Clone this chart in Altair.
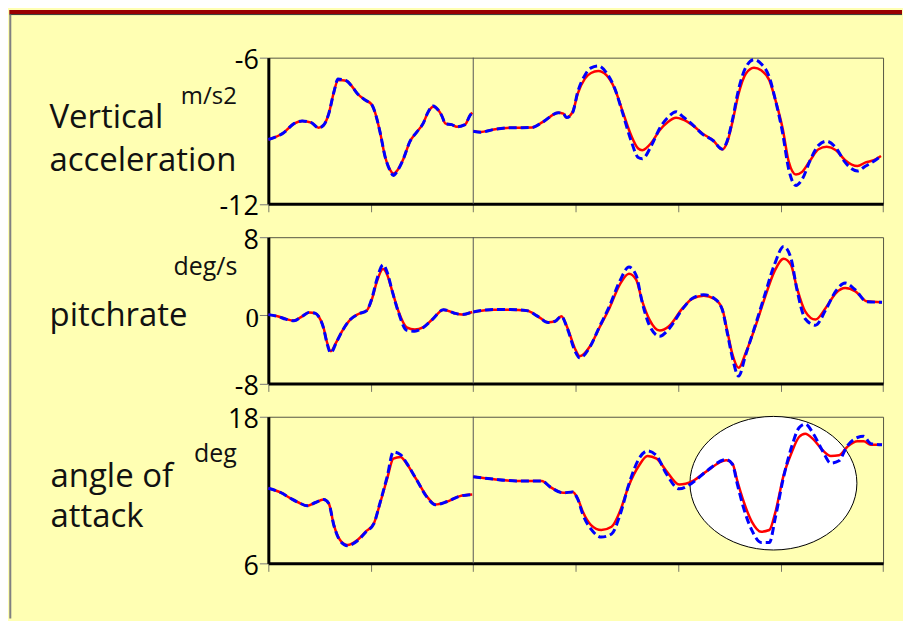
import altair as alt
import pandas as pd

# ---------------- data (time axis in units 0..6) ----------------
# Panel 1: vertical acceleration (m/s2)
acc_t_left = [0.00, 0.15, 0.25, 0.33, 0.42, 0.49, 0.54, 0.59, 0.64, 0.68,
              0.72, 0.77, 0.82, 0.87, 0.95, 1.01, 1.04, 1.09, 1.14, 1.19,
              1.22, 1.26, 1.32, 1.38, 1.45, 1.51, 1.56, 1.61, 1.66, 1.69,
              1.73, 1.79, 1.84, 1.92, 1.97, 1.99]
acc_red_left = [-9.36, -9.08, -8.71, -8.60, -8.67, -8.88, -8.77, -8.30, -7.41, -6.93,
                -6.93, -6.97, -7.20, -7.48, -7.75, -7.93, -8.23, -9.05, -10.07, -10.62,
                -10.76, -10.62, -10.14, -9.46, -9.05, -8.71, -8.23, -8.02, -8.16, -8.36,
                -8.71, -8.75, -8.84, -8.75, -8.36, -8.26]
acc_blue_left = [-9.36, -9.08, -8.71, -8.60, -8.67, -8.88, -8.77, -8.30, -7.41, -6.88,
                 -6.90, -6.97, -7.20, -7.48, -7.75, -7.93, -8.23, -9.05, -10.07, -10.65,
                 -10.84, -10.65, -10.14, -9.46, -9.05, -8.71, -8.23, -7.98, -8.16, -8.36,
                 -8.71, -8.75, -8.84, -8.75, -8.36, -8.26]
acc_t_right = [2.00, 2.07, 2.20, 2.36, 2.57, 2.68, 2.83, 2.88, 2.91, 2.97,
               3.02, 3.09, 3.15, 3.22, 3.30, 3.38, 3.46, 3.54, 3.61, 3.65,
               3.74, 3.82, 3.90, 3.98, 4.04, 4.14, 4.24, 4.34, 4.43, 4.48,
               4.53, 4.59, 4.66, 4.74, 4.81, 4.89, 4.95, 5.02, 5.08, 5.15,
               5.21, 5.29, 5.37, 5.45, 5.54, 5.63, 5.75, 5.83, 5.91, 5.98]
acc_red_right = [-9.02, -9.05, -8.95, -8.88, -8.87, -8.64, -8.26, -8.30, -8.46, -8.23,
                 -7.48, -6.86, -6.63, -6.55, -6.72, -7.27, -8.23, -9.18, -9.73, -9.80,
                 -9.49, -8.98, -8.64, -8.47, -8.53, -8.77, -9.12, -9.39, -9.77, -9.46,
                 -8.64, -7.48, -6.66, -6.41, -6.52, -6.93, -7.75, -8.91, -10.28, -10.80,
                 -10.69, -10.21, -9.76, -9.66, -9.80, -10.21, -10.45, -10.30, -10.21, -10.04]
acc_blue_right = [-9.02, -9.06, -8.95, -8.88, -8.87, -8.64, -8.26, -8.30, -8.46, -8.25,
                  -7.40, -6.72, -6.42, -6.34, -6.62, -7.25, -8.30, -9.40, -10.10, -10.15,
                  -9.60, -8.90, -8.45, -8.22, -8.40, -8.75, -9.15, -9.40, -9.75, -9.40,
                  -8.55, -7.30, -6.40, -6.08, -6.25, -6.80, -7.75, -9.10, -10.60, -11.25,
                  -11.00, -10.20, -9.60, -9.43, -9.70, -10.30, -10.65, -10.45, -10.25, -10.04]

# Panel 2: pitch rate (deg/s)
pr_t_left = [0.00, 0.09, 0.17, 0.25, 0.33, 0.40, 0.46, 0.49, 0.54, 0.57,
             0.61, 0.66, 0.72, 0.80, 0.88, 0.96, 1.01, 1.06, 1.12, 1.16,
             1.21, 1.27, 1.35, 1.43, 1.51, 1.60, 1.71, 1.81, 1.89, 1.99]
pr_red_left = [0.07, -0.12, -0.43, -0.62, -0.12, 0.28, 0.20, -0.12, -1.49, -3.05,
               -4.22, -3.24, -1.87, -0.50, 0.13, 0.48, 1.60, 3.47, 4.73, 4.16,
               2.45, 0.41, -1.41, -1.68, -1.41, -0.50, 0.58, 0.24, 0.07, 0.34]
pr_blue_left = [0.07, -0.12, -0.45, -0.65, -0.12, 0.30, 0.20, -0.12, -1.55, -3.15,
                -4.40, -3.30, -1.87, -0.50, 0.13, 0.48, 1.70, 3.70, 5.18, 4.40,
                2.45, 0.30, -1.75, -1.87, -1.45, -0.50, 0.58, 0.24, 0.07, 0.34]
pr_t_right = [2.00, 2.20, 2.36, 2.52, 2.63, 2.73, 2.80, 2.86, 2.92, 2.99,
              3.04, 3.14, 3.23, 3.33, 3.43, 3.52, 3.59, 3.65, 3.72, 3.82,
              3.91, 4.04, 4.14, 4.25, 4.35, 4.43, 4.48, 4.53, 4.59, 4.66,
              4.76, 4.84, 4.94, 5.03, 5.10, 5.16, 5.24, 5.34, 5.44, 5.54,
              5.63, 5.73, 5.84, 5.99]
pr_red_right = [0.34, 0.58, 0.58, 0.48, -0.12, -0.82, -0.70, -0.12, -1.49, -3.83,
                -4.80, -3.63, -1.49, 0.75, 3.14, 4.26, 3.65, 1.43, -0.50, -1.79,
                -1.29, 0.68, 1.71, 2.01, 1.71, 0.68, -1.87, -4.60, -6.17, -4.41,
                -1.09, 1.60, 4.50, 5.79, 5.18, 2.79, 0.41, -0.50, 0.75, 2.28,
                2.79, 2.45, 1.43, 1.33]
pr_blue_right = [0.34, 0.60, 0.60, 0.48, -0.12, -0.85, -0.70, -0.12, -1.60, -4.10,
                 -5.00, -3.70, -1.40, 0.95, 3.50, 4.94, 4.10, 1.30, -1.20, -2.46,
                 -1.60, 0.60, 1.75, 2.10, 1.75, 0.60, -2.10, -5.00, -7.14, -4.60,
                 -0.90, 1.90, 5.20, 7.05, 5.90, 2.60, -0.40, -1.17, 0.55, 2.50,
                 3.30, 2.60, 1.40, 1.33]

# Panel 3: angle of attack (deg)
aoa_t_left = [0.00, 0.12, 0.22, 0.30, 0.38, 0.46, 0.54, 0.59, 0.64, 0.70,
              0.77, 0.87, 0.95, 1.03, 1.09, 1.16, 1.22, 1.29, 1.35, 1.45,
              1.55, 1.63, 1.74, 1.87, 1.99]
aoa_red_left = [12.15, 11.80, 11.31, 10.96, 10.71, 10.98, 11.22, 10.90, 9.13, 7.91,
                7.50, 7.91, 8.59, 9.27, 10.90, 12.94, 14.57, 14.71, 14.16, 12.81,
                11.45, 10.82, 11.04, 11.50, 11.63]
aoa_blue_left = [12.15, 11.80, 11.31, 10.96, 10.71, 10.98, 11.22, 10.90, 9.10, 7.85,
                 7.45, 7.85, 8.55, 9.25, 10.95, 13.10, 15.12, 14.90, 14.20, 12.80,
                 11.40, 10.80, 11.04, 11.50, 11.63]
aoa_t_right = [2.00, 2.20, 2.42, 2.67, 2.75, 2.88, 2.97, 3.02, 3.07, 3.15,
               3.25, 3.35, 3.43, 3.52, 3.62, 3.70, 3.79, 3.88, 4.01, 4.14,
               4.27, 4.47, 4.53, 4.58, 4.64, 4.72, 4.81, 4.89, 4.95, 5.03,
               5.11, 5.18, 5.24, 5.32, 5.41, 5.49, 5.57, 5.65, 5.75, 5.81,
               5.88, 5.99]
aoa_red_right = [13.08, 12.89, 12.75, 12.75, 12.26, 11.77, 11.85, 11.31, 10.22, 9.13,
                 8.73, 9.00, 10.22, 12.40, 14.03, 14.79, 14.57, 13.62, 12.45, 12.73,
                 13.49, 14.44, 14.16, 12.67, 11.04, 9.40, 8.59, 8.73, 10.22, 13.22,
                 15.12, 16.34, 16.61, 16.15, 15.26, 14.79, 14.85, 15.53, 15.99, 15.99,
                 15.71, 15.71]
aoa_blue_right = [13.08, 12.89, 12.75, 12.75, 12.26, 11.77, 11.85, 11.25, 10.00, 8.80,
                  8.15, 8.40, 9.90, 12.50, 14.60, 15.20, 14.80, 13.40, 12.10, 12.60,
                  13.50, 14.50, 14.10, 12.40, 10.50, 8.70, 7.70, 7.70, 9.80, 13.10,
                  15.60, 17.10, 17.40, 16.60, 15.20, 14.20, 14.40, 15.60, 16.30, 16.40,
                  15.80, 15.71]

# highlighted region (ellipse) in panel 3, in data units
ellipse_t = [4.93]
ellipse_v = [12.56]

# axis ticks
time_ticks = [0, 1, 2, 3, 4, 5, 6]
segment_split = [2]

# ---------------- helpers ----------------
BG = "#FFFFB3"
PW = 616.3
FONT = "Open Sans"


def long_df(tl, rl, bl, tr, rr, br):
    rows = []
    for seg, ts, rs, bs in (("a", tl, rl, bl), ("b", tr, rr, br)):
        for t, r, b in zip(ts, rs, bs):
            rows.append({"t": t, "v": r, "series": "model", "seg": seg})
            rows.append({"t": t, "v": b, "series": "measured", "seg": seg})
    return pd.DataFrame(rows)


def x_enc():
    return alt.X("t:Q", scale=alt.Scale(domain=[0, 6], nice=False, zero=False),
                 axis=alt.Axis(values=time_ticks, labels=False, title=None, grid=False,
                               domainColor="black", domainWidth=3,
                               tickColor="#777766", tickSize=8, tickWidth=1))


def y_enc(domain, values, rng=None, label_font=FONT):
    sc = dict(domain=domain, nice=False, zero=False)
    if rng is not None:
        sc["range"] = rng
    return alt.Y("v:Q", scale=alt.Scale(**sc),
                 axis=alt.Axis(values=values, title=None, grid=False,
                               domainColor="black", domainWidth=3,
                               tickColor="#777777", tickSize=9, tickWidth=1,
                               labelFontSize=27, labelFont=label_font,
                               labelColor="black", labelPadding=1, labelOffset=3,
                               labelExpr="'' + datum.value"))


def text(txt, x, y, size=33):
    return alt.Chart(pd.DataFrame({"k": [0]})).mark_text(
        text=txt, align="left", baseline="alphabetic", font=FONT,
        fontSize=size, color="#111111").encode(x=alt.value(x), y=alt.value(y))


def panel(df, y, extra_front=(), extra_back=(), h=147):
    base = alt.Chart(df).encode(x=x_enc(), y=y, detail="seg:N")
    red = base.transform_filter("datum.series == 'model'").mark_line(
        color="#FF0000", strokeWidth=2.5, interpolate="monotone")
    blue = base.transform_filter("datum.series == 'measured'").mark_line(
        color="#0000FF", strokeWidth=3, strokeDash=[8, 4], interpolate="monotone")
    split = alt.Chart(pd.DataFrame({"t": segment_split})).mark_rule(
        color="#555555", strokeWidth=1).encode(x=x_enc())
    return alt.layer(*extra_back, split, red, blue, *extra_front).properties(width=PW, height=h)


# ---------------- panel 1 ----------------
df1 = long_df(acc_t_left, acc_red_left, acc_blue_left, acc_t_right, acc_red_right, acc_blue_right)
band = alt.Chart(pd.DataFrame({"k": [0]})).mark_rect(color="#990000").encode(
    x=alt.value(-259.7), x2=alt.value(635.3), y=alt.value(-47.7), y2=alt.value(-43.7))
band_line = alt.Chart(pd.DataFrame({"k": [0]})).mark_rule(color="#333333", strokeWidth=1).encode(
    x=alt.value(-259.7), x2=alt.value(635.3), y=alt.value(-43.2))
left_line = alt.Chart(pd.DataFrame({"k": [0]})).mark_rule(color="#808080", strokeWidth=2).encode(
    x=alt.value(-258.7), y=alt.value(-43.2), y2=alt.value(562.3))
p1 = panel(df1, y_enc([-12, -6], [-6, -12]),
           extra_back=(band, band_line, left_line),
           extra_front=(text("Vertical", -219.4, 70.3), text("acceleration", -219.4, 113.6),
                        text("m/s2", -87.7, 46, 24)),
           h=146.5)

# ---------------- panel 2 ----------------
df2 = long_df(pr_t_left, pr_red_left, pr_blue_left, pr_t_right, pr_red_right, pr_blue_right)
p2 = panel(df2, y_enc([-8, 0, 8], [8, 0, -8], rng=[146.6, 78.3, 0],
                      label_font={"condition": {"test": "datum.value == 0", "value": "Liberation Serif"},
                                  "value": FONT}),
           extra_front=(text("pitchrate", -219.4, 89.3), text("deg/s", -95, 37.6, 25)),
           h=146.6)

# ---------------- panel 3 ----------------
df3 = long_df(aoa_t_left, aoa_red_left, aoa_blue_left, aoa_t_right, aoa_red_right, aoa_blue_right)
ELLIPSE = ("M 1 0 C 1 0.4418 0.5523 0.8 0 0.8 C -0.5523 0.8 -1 0.4418 -1 0 "
           "C -1 -0.4418 -0.5523 -0.8 0 -0.8 C 0.5523 -0.8 1 -0.4418 1 0 Z")
ell = alt.Chart(pd.DataFrame({"t": ellipse_t, "v": ellipse_v})).mark_point(
    shape=ELLIPSE, size=28023, filled=True, fill="white", fillOpacity=1, opacity=1,
    stroke="black", strokeWidth=1).encode(x=x_enc(), y=y_enc([6, 18], [18, 6]))
p3 = panel(df3, y_enc([6, 18], [18, 6]),
           extra_back=(ell,),
           extra_front=(text("angle of", -218.4, 70.3), text("attack", -218.4, 111),
                        text("deg", -74.4, 45.3, 25)),
           h=147)

chart = alt.vconcat(p1, p2, p3, spacing=33, bounds="flush").properties(
    padding=0, background=BG
).configure_view(stroke="#555544", strokeWidth=1)

chart.save("out.html", embed_options={"renderer": "svg", "actions": False})
